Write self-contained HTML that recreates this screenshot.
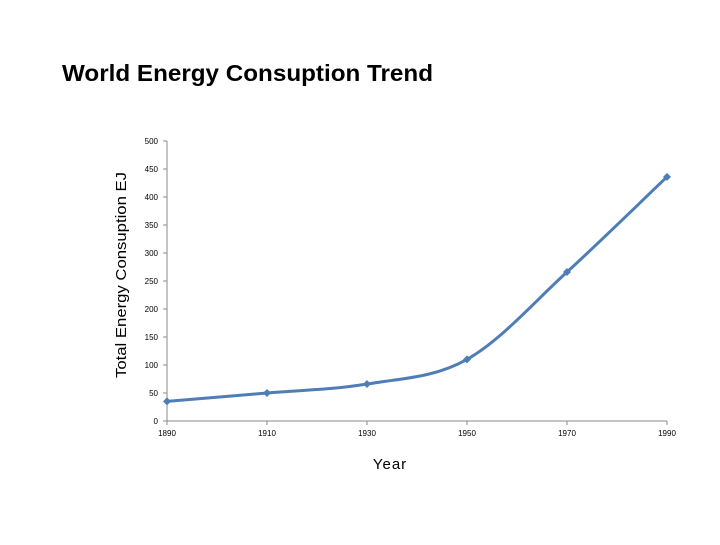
<!DOCTYPE html>
<html><head><meta charset="utf-8"><style>
html,body{margin:0;padding:0;background:#fff;}
svg text{font-family:"Liberation Sans",sans-serif;}
</style></head><body>
<svg width="720" height="540" id="chart">
<text x="62" y="81" font-size="23" font-weight="bold" textLength="371" lengthAdjust="spacingAndGlyphs" fill="#000">World Energy Consuption Trend</text>
<text transform="translate(126,275) rotate(-90)" text-anchor="middle" font-size="15" textLength="206" lengthAdjust="spacingAndGlyphs" fill="#000">Total Energy Consuption  EJ</text>
<text x="390" y="469" text-anchor="middle" font-size="15" fill="#000" letter-spacing="1">Year</text>
<g id="axes"></g>
<g id="plot"></g>
</svg>
<script>
const years=[1890,1910,1930,1950,1970,1990];
const values=[35,50,66,110,266,436];
const yTicks=[0,50,100,150,200,250,300,350,400,450,500];
const xTicks=[1890,1910,1930,1950,1970,1990];
const NS="http://www.w3.org/2000/svg";
const X0=167,X1=667,Y0=421,Y1=141;
const sx=v=>X0+(v-1890)/(1990-1890)*(X1-X0);
const sy=v=>Y0-v/500*(Y0-Y1);
const axes=document.getElementById('axes'),plot=document.getElementById('plot');
function mk(t,a,p){const e=document.createElementNS(NS,t);for(const k in a)e.setAttribute(k,a[k]);p.appendChild(e);return e;}
let l=mk('line',{x1:X0,y1:Y1,x2:X0,y2:Y0,stroke:'#888','stroke-width':1},axes);


l=mk('line',{x1:X0,y1:Y0,x2:X1,y2:Y0,stroke:'#888','stroke-width':1},axes);


yTicks.forEach(v=>{const y=sy(v);
mk('line',{x1:X0-4,y1:y,x2:X0,y2:y,stroke:'#888'},axes);
const t=mk('text',{x:X0-9,y:y+3,'text-anchor':'end','font-size':8,fill:'#000'},axes);t.textContent=v;

});
xTicks.forEach(v=>{const x=sx(v);
mk('line',{x1:x,y1:Y0,x2:x,y2:Y0+4,stroke:'#888'},axes);
const t=mk('text',{x:x,y:Y0+15,'text-anchor':'middle','font-size':8,fill:'#000'},axes);t.textContent=v;

});
const pts=years.map((y,i)=>[sx(y),sy(values[i])]);
let d='M'+pts[0][0]+','+pts[0][1];
for(let i=0;i<pts.length-1;i++){const p0=pts[Math.max(0,i-1)],p1=pts[i],p2=pts[i+1],p3=pts[Math.min(pts.length-1,i+2)];const k=1/6;
d+=' C'+(p1[0]+(p2[0]-p0[0])*k)+','+(p1[1]+(p2[1]-p0[1])*k)+' '+(p2[0]-(p3[0]-p1[0])*k)+','+(p2[1]-(p3[1]-p1[1])*k)+' '+p2[0]+','+p2[1];}
const path=mk('path',{d:d,fill:'none',stroke:'#4f7db5','stroke-width':3},plot);


pts.forEach(p=>{const m=mk('path',{d:`M${p[0]},${p[1]-4} L${p[0]+4},${p[1]} L${p[0]},${p[1]+4} L${p[0]-4},${p[1]} Z`,fill:'#4f7db5'},plot);

});
</script>
</body></html>
